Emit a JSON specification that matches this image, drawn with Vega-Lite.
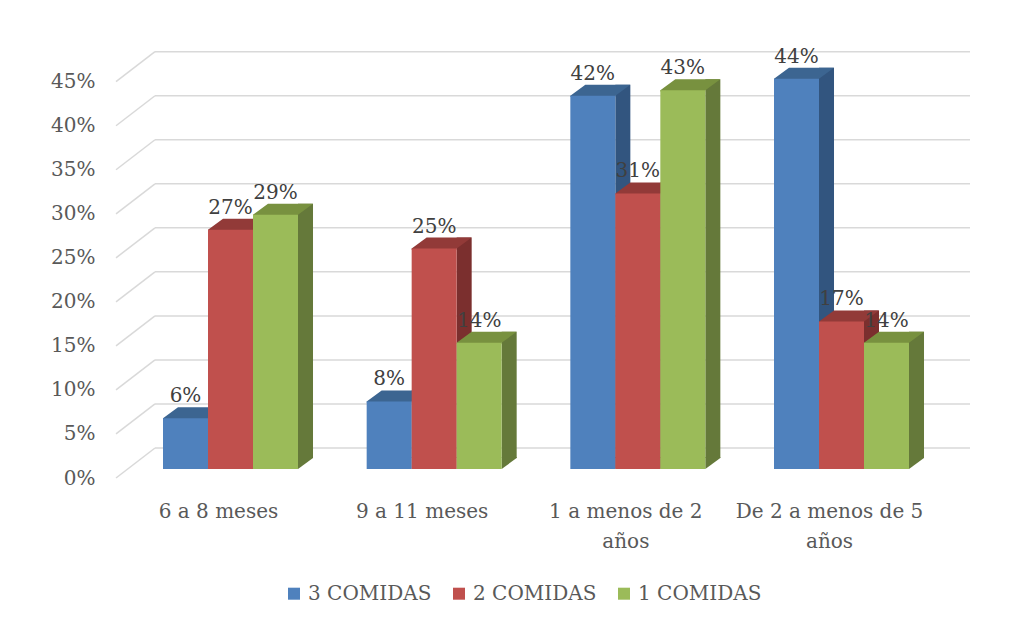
{
  "$schema": "https://vega.github.io/schema/vega-lite/v6.json",
  "width": 840,
  "height": 396.3,
  "autosize": {"type": "none"},
  "padding": {"left": 116, "top": 51.7, "right": 55, "bottom": 175},
  "background": "white",
  "config": {"view": {"stroke": null}, "font": "DejaVu Serif"},
  "datasets": {
    "barras": [
      {"grupo": "6 a 8 meses", "serie": "3 COMIDAS", "valor": 0.057},
      {"grupo": "6 a 8 meses", "serie": "2 COMIDAS", "valor": 0.269},
      {"grupo": "6 a 8 meses", "serie": "1 COMIDAS", "valor": 0.286},
      {"grupo": "9 a 11 meses", "serie": "3 COMIDAS", "valor": 0.076},
      {"grupo": "9 a 11 meses", "serie": "2 COMIDAS", "valor": 0.248},
      {"grupo": "9 a 11 meses", "serie": "1 COMIDAS", "valor": 0.142},
      {"grupo": "1 a menos de 2 años", "serie": "3 COMIDAS", "valor": 0.42},
      {"grupo": "1 a menos de 2 años", "serie": "2 COMIDAS", "valor": 0.31},
      {"grupo": "1 a menos de 2 años", "serie": "1 COMIDAS", "valor": 0.426},
      {"grupo": "De 2 a menos de 5 años", "serie": "3 COMIDAS", "valor": 0.439},
      {"grupo": "De 2 a menos de 5 años", "serie": "2 COMIDAS", "valor": 0.166},
      {"grupo": "De 2 a menos de 5 años", "serie": "1 COMIDAS", "valor": 0.142}
    ],
    "marcas": [
      {"tick": 0}, {"tick": 0.05}, {"tick": 0.1}, {"tick": 0.15}, {"tick": 0.2},
      {"tick": 0.25}, {"tick": 0.3}, {"tick": 0.35}, {"tick": 0.4}, {"tick": 0.45}
    ]
  },
  "layer": [
    {
      "data": {"name": "marcas"},
      "encoding": {
        "y": {
          "field": "tick", "type": "quantitative",
          "scale": {"domain": [0, 0.45], "nice": false, "zero": true},
          "axis": {
            "values": [0, 0.05, 0.1, 0.15, 0.2, 0.25, 0.3, 0.35, 0.4, 0.45],
            "format": ".0%", "title": null, "grid": false, "domain": false,
            "ticks": false, "tickSize": 0, "labelPadding": 21, "labelOffset": 30,
            "labelFlush": false, "labelFont": "DejaVu Serif", "labelFontSize": 20,
            "labelColor": "#595959", "labelOverlap": false
          }
        }
      },
      "layer": [
        {
          "mark": {"type": "rule", "color": "#d9d9d9", "strokeWidth": 1.5, "xOffset": 39, "x2Offset": 14},
          "encoding": {"x": {"value": 0}, "x2": {"value": "width"}}
        },
        {
          "mark": {"type": "rule", "color": "#d9d9d9", "strokeWidth": 1.5, "yOffset": 30, "x2Offset": 39},
          "encoding": {"x": {"value": 0}, "x2": {"value": 0}, "y2": {"field": "tick"}}
        }
      ]
    },
    {
      "data": {"name": "barras"},
      "encoding": {
        "x": {
          "field": "grupo", "type": "nominal", "sort": null,
          "scale": {"paddingInner": 0.3372, "paddingOuter": 0.2308},
          "axis": {
            "title": null, "labelAngle": 0, "domain": false, "ticks": false, "tickSize": 0,
            "labelPadding": 53, "labelOffset": -12, "labelFont": "DejaVu Serif",
            "labelFontSize": 20, "labelColor": "#595959", "labelLineHeight": 30,
            "labelLimit": 400,
            "labelExpr": "datum.label == '1 a menos de 2 años' ? ['1 a menos de 2', 'años'] : datum.label == 'De 2 a menos de 5 años' ? ['De 2 a menos de 5', 'años'] : datum.label"
          }
        },
        "y": {
          "field": "valor", "type": "quantitative",
          "scale": {"domain": [0, 0.4458], "nice": false, "zero": true},
          "axis": null
        }
      },
      "layer": [
        {
          "mark": {"type": "rule", "strokeWidth": 15, "strokeCap": "butt", "yOffset": 10, "y2Offset": 10, "opacity": 1},
          "encoding": {
            "xOffset": {
              "field": "serie", "type": "nominal",
              "scale": {"domain": ["3 COMIDAS", "2 COMIDAS", "1 COMIDAS"], "range": [30, 165], "paddingInner": 0, "paddingOuter": 0}
            },
            "y2": {"datum": 0},
            "color": {"field": "serie", "type": "nominal", "legend": null,
              "scale": {"domain": ["3 COMIDAS", "2 COMIDAS", "1 COMIDAS"], "range": ["#32557F", "#7B2F2E", "#65793A"]}}
          }
        },
        {
          "encoding": {
            "xOffset": {
              "field": "serie", "type": "nominal",
              "scale": {"domain": ["3 COMIDAS", "2 COMIDAS", "1 COMIDAS"], "paddingInner": 0, "paddingOuter": 0}
            }
          },
          "layer": [
            {
              "mark": {"type": "point", "shape": "M 3 1.2 L 3 2.8 L 5 1.3333 L 5 1.2 Z", "size": 225, "filled": true, "opacity": 1, "strokeWidth": 0},
              "encoding": {
                "y": {"datum": 0, "type": "quantitative", "axis": null},
                "color": {"field": "serie", "type": "nominal", "legend": null,
                  "scale": {"domain": ["3 COMIDAS", "2 COMIDAS", "1 COMIDAS"], "range": ["#32557F", "#7B2F2E", "#65793A"]}}
              }
            },
            {
              "mark": {"type": "point", "shape": "M -3 2.95 L -3 2.8 L -1 1.3333 L 5 1.3333 L 3 2.8 L 3 2.95 Z", "size": 225, "filled": true, "opacity": 1, "strokeWidth": 0},
              "encoding": {
                "color": {"field": "serie", "type": "nominal", "legend": null,
                  "scale": {"domain": ["3 COMIDAS", "2 COMIDAS", "1 COMIDAS"], "range": ["#3C6591", "#923A38", "#78913F"]}}
              }
            },
            {
              "mark": {"type": "bar", "yOffset": 21, "y2Offset": 21},
              "encoding": {
                "y2": {"datum": 0},
                "color": {"field": "serie", "type": "nominal",
                  "scale": {"domain": ["3 COMIDAS", "2 COMIDAS", "1 COMIDAS"], "range": ["#4F81BD", "#C0504D", "#9BBB59"]},
                  "legend": {
                    "orient": "none", "legendX": 168, "legendY": 532, "direction": "horizontal",
                    "title": null, "symbolType": "square", "symbolSize": 144, "symbolStrokeWidth": 0,
                    "labelFont": "DejaVu Serif", "labelFontSize": 20, "labelColor": "#595959",
                    "columnPadding": 17, "labelOffset": 4
                  }
                }
              }
            },
            {
              "mark": {"type": "text", "yOffset": 5, "baseline": "alphabetic", "align": "center", "fontSize": 20, "font": "DejaVu Serif", "color": "#404040"},
              "encoding": {"text": {"field": "valor", "type": "quantitative", "format": ".0%"}}
            }
          ],
          "resolve": {"scale": {"color": "independent"}}
        }
      ],
      "resolve": {"scale": {"color": "independent", "xOffset": "independent"}}
    }
  ],
  "resolve": {"scale": {"y": "independent", "color": "independent"}, "axis": {"y": "independent"}}
}
